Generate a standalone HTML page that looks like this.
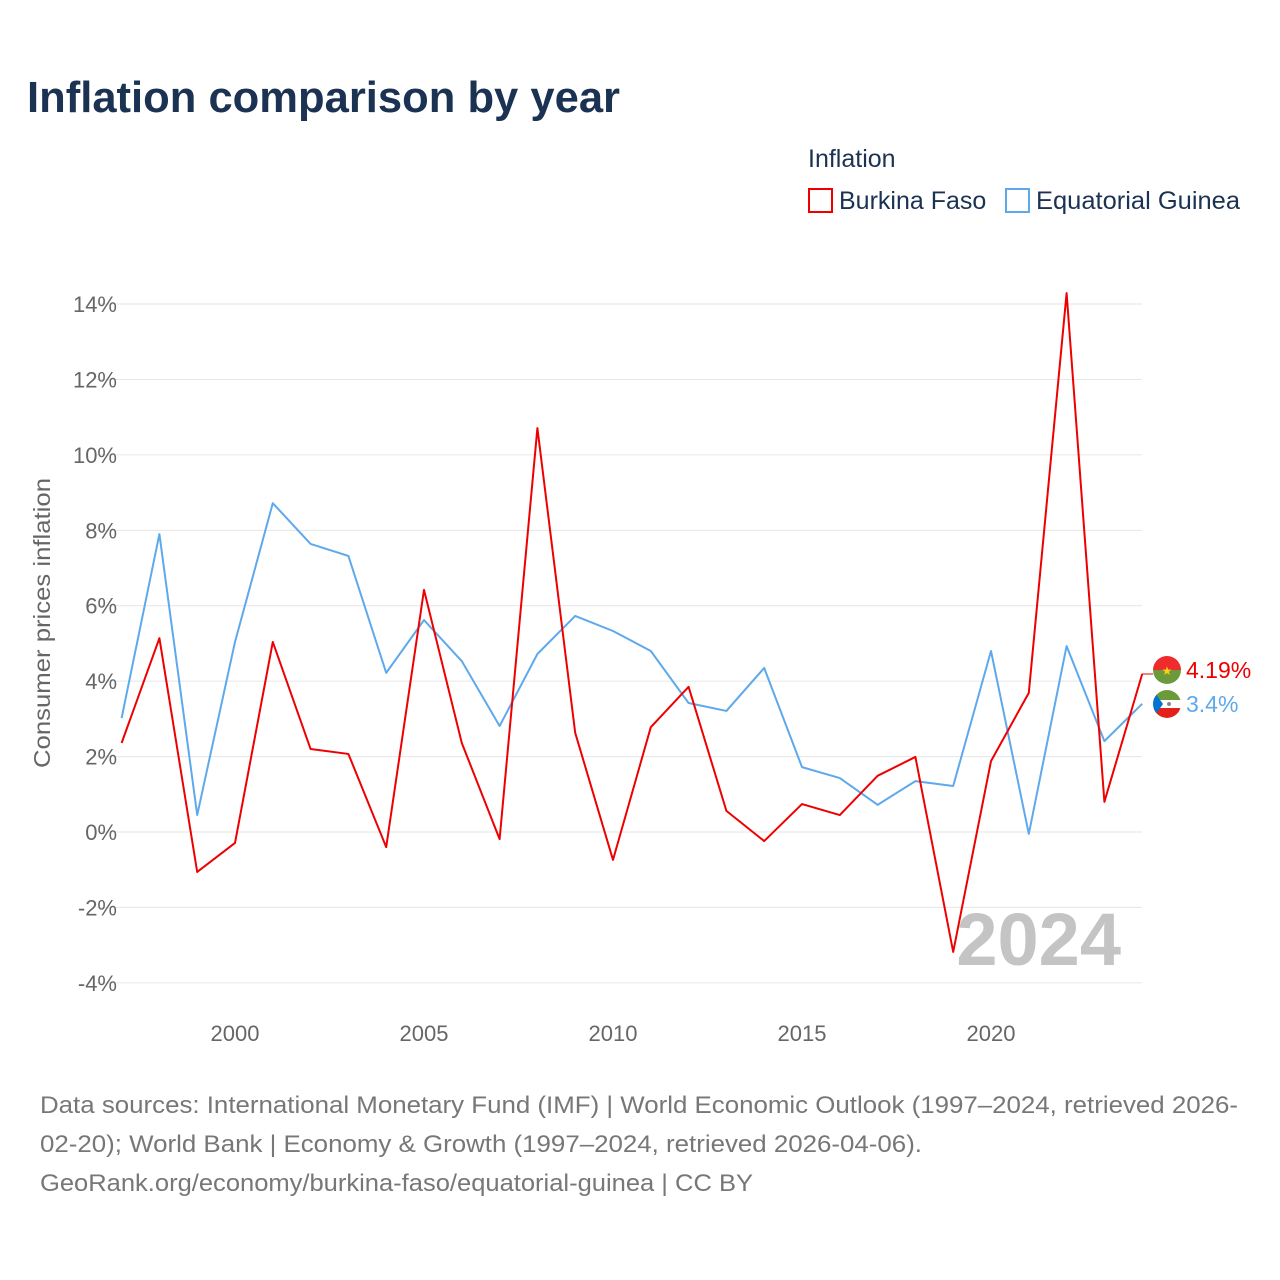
<!DOCTYPE html>
<html><head><meta charset="utf-8">
<style>
body{margin:0;background:#fff;font-family:"Liberation Sans",sans-serif;}
#wrap{position:relative;width:1280px;height:1280px;overflow:hidden;}
</style></head>
<body>
<div id="wrap">
<svg id="chart" width="1280" height="1280">
<text x="27" y="112" font-size="44" font-weight="bold" fill="#1b3252" textLength="593" lengthAdjust="spacingAndGlyphs">Inflation comparison by year</text>
<text x="808" y="167" font-size="25" fill="#1b3252">Inflation</text>
<g>
<rect x="809" y="189" width="23" height="23" fill="none" stroke="#ee0000" stroke-width="2"/>
<text x="839" y="209" font-size="25" fill="#1b3252">Burkina Faso</text></g>
<g>
<rect x="1006" y="189" width="23" height="23" fill="none" stroke="#5ea9ec" stroke-width="2"/>
<text x="1036" y="209" font-size="25" fill="#1b3252" textLength="204" lengthAdjust="spacingAndGlyphs">Equatorial Guinea</text></g>
<g id="grid"></g>
<text x="1121" y="965" font-size="74" font-weight="bold" fill="#c4c4c4" text-anchor="end">2024</text>
<text transform="translate(50,768) rotate(-90)" font-size="23" fill="#666" textLength="290" lengthAdjust="spacingAndGlyphs">Consumer prices inflation</text>
<g id="series"></g>
<g>
<clipPath id="c1"><circle cx="1167" cy="670" r="14"/></clipPath>
<g clip-path="url(#c1)"><rect x="1153" y="656" width="28" height="14" fill="#ef2b2d"/><rect x="1153" y="670" width="28" height="14" fill="#6a9a3a"/><text x="1167" y="675" font-size="12" fill="#fcd116" text-anchor="middle">★</text></g></g>
<g>
<clipPath id="c2"><circle cx="1167" cy="704" r="14"/></clipPath>
<g clip-path="url(#c2)"><rect x="1153" y="690" width="28" height="10" fill="#6a9a3a"/><rect x="1153" y="700" width="28" height="8" fill="#fff"/><rect x="1153" y="708" width="28" height="10" fill="#e32118"/><polygon points="1153,690 1163,704 1153,718" fill="#0073ce"/><circle cx="1169" cy="704" r="2" fill="#888"/></g></g>
<text x="1186" y="678" font-size="23" fill="#ee0000">4.19%</text>
<text x="1186" y="712" font-size="23" fill="#5ea9ec">3.4%</text>
<text x="40" y="1113" font-size="24" fill="#777" textLength="1198" lengthAdjust="spacingAndGlyphs">Data sources: International Monetary Fund (IMF) | World Economic Outlook (1997–2024, retrieved 2026-</text>
<text x="40" y="1152" font-size="24" fill="#777" textLength="882" lengthAdjust="spacingAndGlyphs">02-20); World Bank | Economy &amp; Growth (1997–2024, retrieved 2026-04-06).</text>
<text x="40" y="1191" font-size="24" fill="#777" textLength="713" lengthAdjust="spacingAndGlyphs">GeoRank.org/economy/burkina-faso/equatorial-guinea | CC BY</text>
</svg>
</div>
<script>
const years=[1997,1998,1999,2000,2001,2002,2003,2004,2005,2006,2007,2008,2009,2010,2011,2012,2013,2014,2015,2016,2017,2018,2019,2020,2021,2022,2023,2024];
const burkinaFaso=[2.36,5.14,-1.06,-0.29,5.04,2.2,2.07,-0.4,6.42,2.36,-0.19,10.71,2.63,-0.74,2.78,3.85,0.56,-0.24,0.74,0.45,1.49,1.99,-3.18,1.88,3.69,14.29,0.8,4.19];
const equatorialGuinea=[3.02,7.9,0.45,5.04,8.72,7.64,7.32,4.22,5.62,4.53,2.81,4.72,5.73,5.33,4.8,3.42,3.21,4.35,1.72,1.43,0.72,1.35,1.22,4.8,-0.05,4.93,2.41,3.4];
const yTicks=[-4,-2,0,2,4,6,8,10,12,14];
const xTicks=[2000,2005,2010,2015,2020];
const NS="http://www.w3.org/2000/svg";
function X(y){return 121.6+(y-1997)*37.8;}
function Y(v){return 832-v*37.71;}
const grid=document.getElementById('grid');
yTicks.forEach(t=>{
 const l=document.createElementNS(NS,'line');
 l.setAttribute('x1',97);l.setAttribute('x2',1142);l.setAttribute('y1',Y(t));l.setAttribute('y2',Y(t));
 l.setAttribute('stroke','#e6e6e6');l.setAttribute('stroke-width',1);
 
 
 grid.appendChild(l);
 const tx=document.createElementNS(NS,'text');
 tx.setAttribute('x',117);tx.setAttribute('y',Y(t)+8);tx.setAttribute('text-anchor','end');
 tx.setAttribute('font-size',22);tx.setAttribute('fill','#666');tx.textContent=t+'%';
 
 
 grid.appendChild(tx);
});
xTicks.forEach(t=>{
 const tx=document.createElementNS(NS,'text');
 tx.setAttribute('x',X(t));tx.setAttribute('y',1041);tx.setAttribute('text-anchor','middle');
 tx.setAttribute('font-size',22);tx.setAttribute('fill','#666');tx.textContent=t;
 
 
 grid.appendChild(tx);
});
const series=document.getElementById('series');
function line(vals,color,name){
 const p=document.createElementNS(NS,'polyline');
 p.setAttribute('points',vals.map((v,i)=>X(years[i])+','+Y(v)).join(' '));
 p.setAttribute('fill','none');p.setAttribute('stroke',color);p.setAttribute('stroke-width',2);
 p.setAttribute('stroke-linejoin','round');
 
 
 series.appendChild(p);
}
line(equatorialGuinea,'#5ea9ec','line-equatorial-guinea');
line(burkinaFaso,'#ee0000','line-burkina-faso');
const lead=document.createElementNS(NS,'line');
lead.setAttribute('x1',1142);lead.setAttribute('x2',1153);lead.setAttribute('y1',Y(burkinaFaso[27]));lead.setAttribute('y2',Y(burkinaFaso[27]));
lead.setAttribute('stroke','#ee0000');lead.setAttribute('stroke-width',1);


series.appendChild(lead);
</script>
</body></html>
